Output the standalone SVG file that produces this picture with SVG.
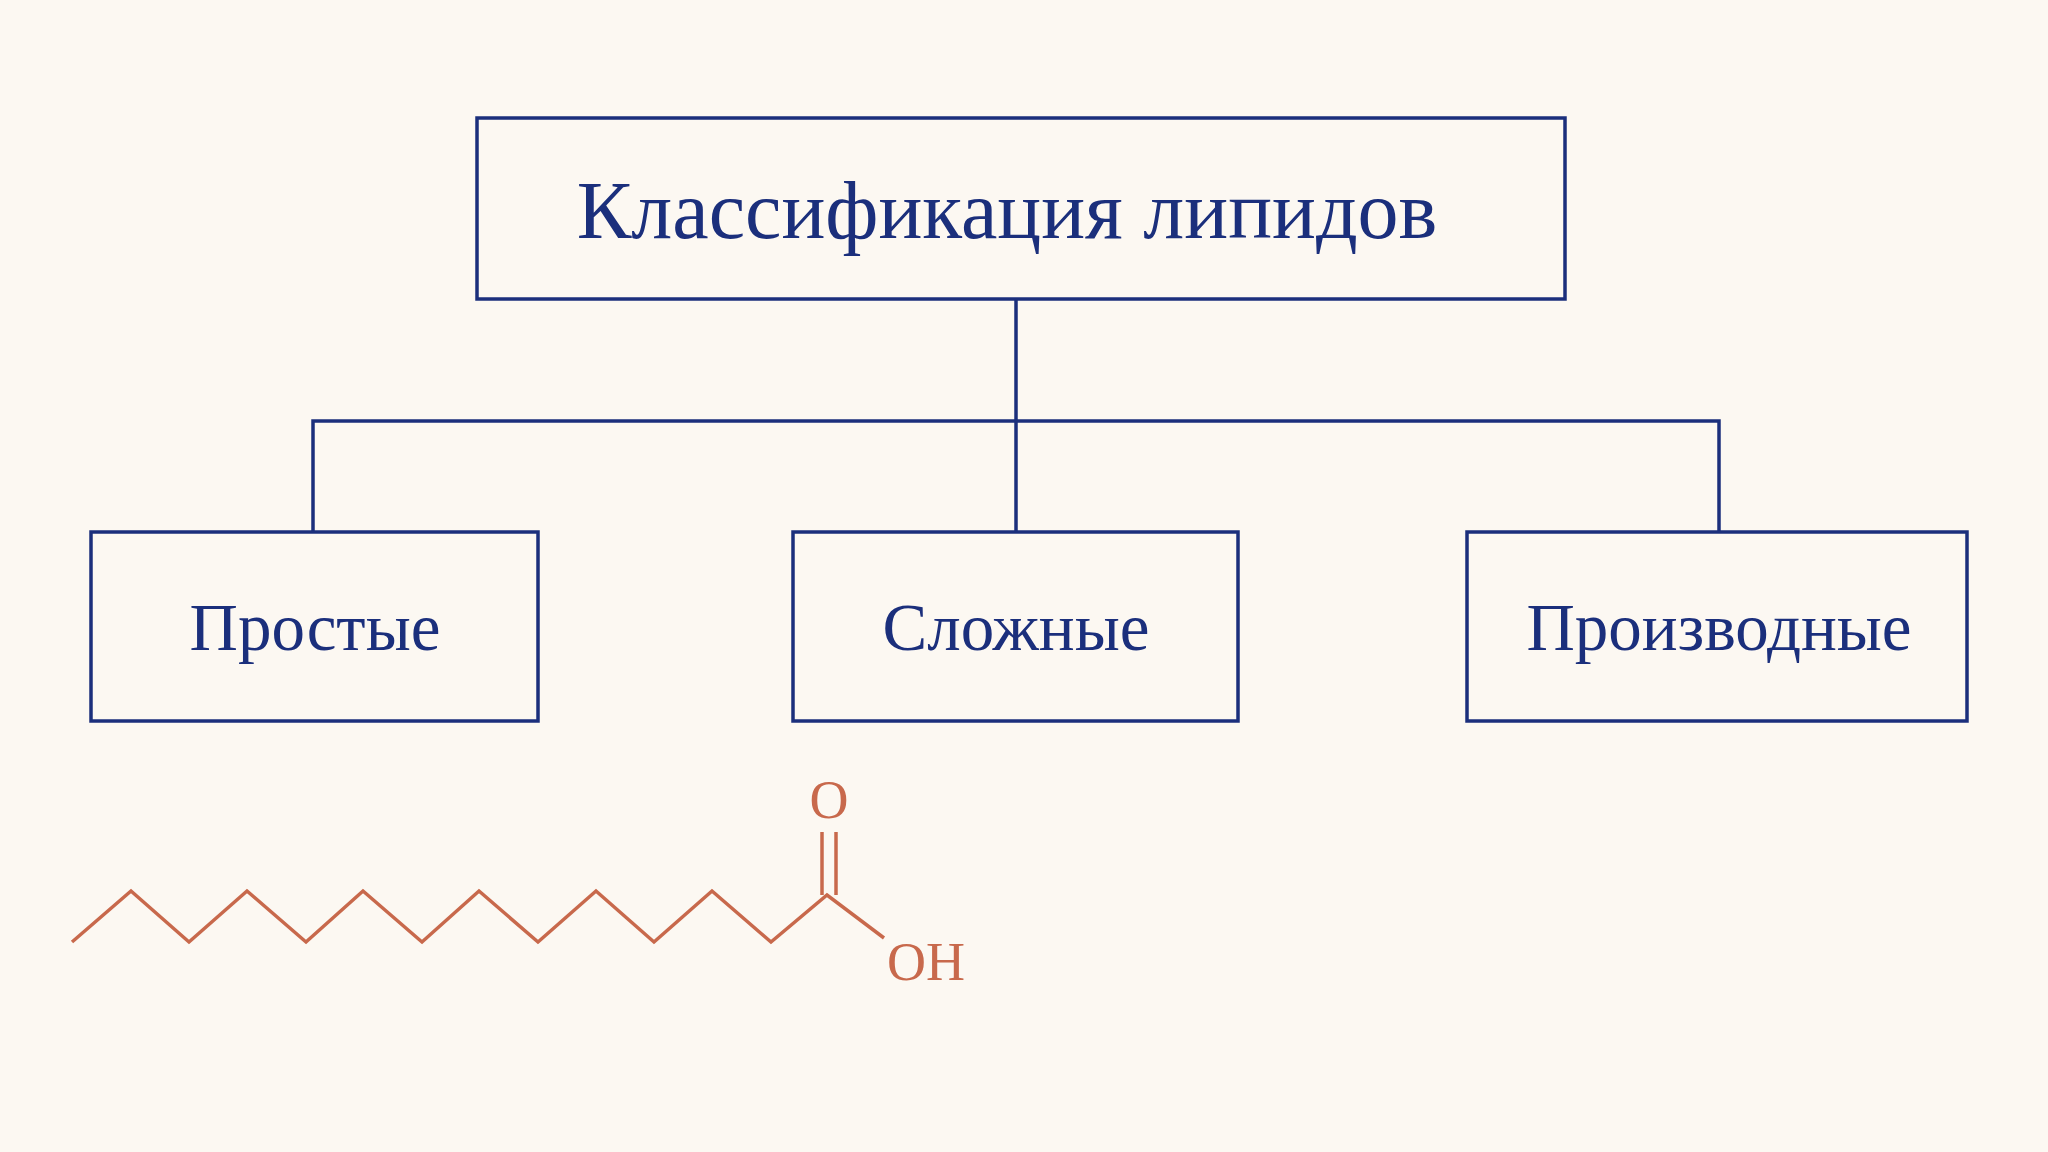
<svg xmlns="http://www.w3.org/2000/svg" width="2048" height="1152" viewBox="0 0 2048 1152">
<style>
.box{fill:none;stroke:#1b2f7c;stroke-width:3.5}
.lbl{font-family:"Liberation Serif",serif;fill:#1b2f7c;text-anchor:middle}
.chem{fill:none;stroke:#c8694c;stroke-width:3.5;stroke-linejoin:miter}
.ct{font-family:"Liberation Serif",serif;fill:#c8694c;font-size:54px}
</style>
<rect width="2048" height="1152" fill="#fcf8f2"/>
<g id="connectors" stroke="#1b2f7c" stroke-width="3.5" fill="none">
<path d="M1016 299V532M313 532V421H1719V532"/>
</g>
<g id="root"><rect class="box" x="477" y="118" width="1088" height="181"/><text class="lbl" x="1007" y="238" font-size="82">Классификация липидов</text></g>
<g id="simple"><rect class="box" x="91" y="532" width="447" height="189"/><text class="lbl" x="315" y="650" font-size="67">Простые</text></g>
<g id="complex"><rect class="box" x="793" y="532" width="445" height="189"/><text class="lbl" x="1016" y="650" font-size="67">Сложные</text></g>
<g id="derived"><rect class="box" x="1467" y="532" width="500" height="189"/><text class="lbl" x="1719" y="650" font-size="67">Производные</text></g>
<g id="molecule">
<polyline class="chem" points="72,942 131,891 189,942 247,891 306,942 363,891 422,942 479,891 538,942 596,891 654,942 712,891 771,942 827,895 884,938"/>
<path class="chem" d="M822 895V832M836 895V832"/>
<text class="ct" x="829" y="818" text-anchor="middle">O</text>
<text class="ct" x="887" y="980">OH</text>
</g>
</svg>
